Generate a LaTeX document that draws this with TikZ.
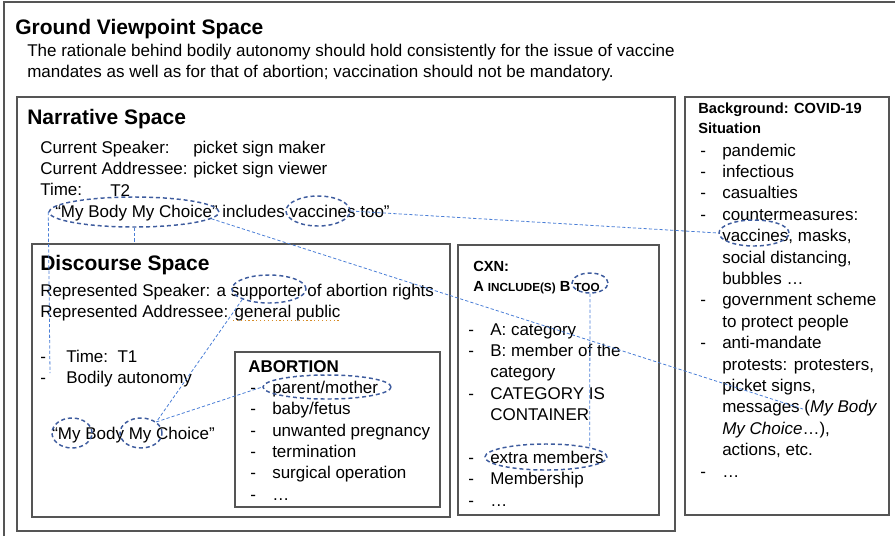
\documentclass[tikz,border=0pt]{standalone}
\usepackage{fontspec}
\setmainfont{Liberation Sans}
\usetikzlibrary{shapes.geometric,fit}

\definecolor{ringblue}{RGB}{62,92,158}
\definecolor{linkblue}{RGB}{74,126,214}
\definecolor{boxgray}{RGB}{85,85,85}
\definecolor{spellorange}{RGB}{214,140,40}

\newcommand{\bodyfont}{\fontsize{12.75pt}{16.05pt}\selectfont}
\newcommand{\li}[1][16.5pt]{\makebox[#1][l]{-}}
\newcommand{\lc}{\hspace*{16.5pt}}
\newcommand{\smc}[1]{{\fontsize{8.8pt}{15pt}\selectfont #1}}
% lines set from the baseline of the first one
\newcommand{\lines}[1]{\begin{tabular}[t]{@{}l@{}}#1\end{tabular}}

\begin{document}
\begin{tikzpicture}[%
    x=0.75pt, y=-0.75pt,        % work in pixels of the reference, y downwards
    ]
% -------------------------------------------------
% Styles for boxes, texts, circled words and links
\tikzset{
  box/.style={draw=boxgray, line width=1pt, inner sep=0pt},
  txt/.style={anchor=base west, inner sep=0pt, font=\bodyfont},
  head/.style={txt, font=\fontsize{15.75pt}{19pt}\selectfont\bfseries},
  small/.style={txt, font=\fontsize{11pt}{15pt}\selectfont\bfseries},
  ring/.style 2 args={ellipse, draw=ringblue, line width=1.1pt,
    dash pattern=on 3pt off 2.2pt, inner sep=0pt,
    minimum width=#1*1.5pt, minimum height=#2*1.5pt},
  link/.style={draw=linkblue, line width=0.6pt, dash pattern=on 2.4pt off 1.6pt},
  spell/.style={draw=spellorange, line width=0.9pt, dotted}
}
\useasboundingbox (0,0) rectangle (895,536);
% -------------------------------------------------
% The spaces
\draw[box] (4,536) |- (895,2);
\node[box, fit={(17,97) (675,531)}] (narr) {};
\node[box, fit={(32,244) (450,517)}] (disc) {};
\node[box, fit={(235,352) (440,507)}] (abort) {};
\node[box, fit={(458,245) (659,515)}] (cxn) {};
\node[box, fit={(685,97) (889,515)}] (backgr) {};

% Ground viewpoint space
\node[head] (groundTitle) at (15,34.5) {Ground Viewpoint Space};
\node[txt] (rationale) at (27,56) {\lines{The rationale behind bodily autonomy should hold consistently for the issue of vaccine\\mandates as well as for that of abortion; vaccination should not be mandatory.}};

% Narrative space
\node[head] (narrTitle) at (27,124.5) {Narrative Space};
\node[txt] (curRoles) at (40,153) {\lines{Current Speaker:\\Current Addressee:\\Time:}};
\node[txt] (curValues) at (193,153) {\lines{picket sign maker\\picket sign viewer}};
\node[txt] (timeTwo) at (110,196) {T2};
\node[txt] (quoteNarr) at (55,217.5) {“My Body My Choice” includes vaccines too”};

% Discourse space
\node[head] (discTitle) at (40,270.5) {Discourse Space};
\node[txt] (repRoles) at (40,296) {\lines{Represented Speaker: a supporter of abortion rights\\Represented Addressee: general public}};
\draw[spell] (233,320.5) -- (340,320.5);
\node[txt] (discList) at (40,362) {\lines{\li[19.5pt]Time:\ \ T1\\\li[19.5pt]Bodily autonomy}};
\node[txt] (quoteDisc) at (52,439) {“My Body My Choice”};

% Abortion frame
\node[txt, font=\bodyfont\bfseries] (abortTitle) at (248,372) {ABORTION};
\node[txt] (abortList) at (250,393.3) {\lines{\li parent/mother\\\li baby/fetus\\\li unwanted pregnancy\\\li termination\\\li surgical operation\\\li …}};

% Construction
\node[small] (cxnTitle) at (473,271) {\lines{CXN:\\A \smc{INCLUDE(S)} B \smc{TOO}}};
\node[txt] (cxnList) at (468,335) {\lines{\li A: category\\\li B: member of the\\\lc category\\\li CATEGORY IS\\\lc CONTAINER\\\mbox{}\\\li extra members\\\li Membership\\\li …}};

% Background
\node[small] (bgTitle) at (698,113) {\lines{Background: COVID-19\\Situation}};
\node[txt] (bgList) at (700,156) {\lines{\li pandemic\\\li infectious\\\li casualties\\\li countermeasures:\\\lc vaccines, masks,\\\lc social distancing,\\\lc bubbles …\\\li government scheme\\\lc to protect people\\\li anti-mandate\\\lc protests: protesters,\\\lc picket signs,\\\lc messages (\textit{My Body}\\\lc \textit{My Choice}…),\\\lc actions, etc.\\\li …}};

% -------------------------------------------------
% Circled words
\node[ring={85}{15}] (eBodyN) at (134,212) {};
\node[ring={32}{15}] (eVacN) at (318,211) {};
\node[ring={37}{14}] (eSupp) at (269,289) {};
\node[ring={20}{15}] (eMyOne) at (72,433) {};
\node[ring={21}{15}] (eMyTwo) at (141,433) {};
\node[ring={64}{12}] (eParent) at (327,387) {};
\node[ring={18}{10}] (eToo) at (590,283) {};
\node[ring={61}{13}] (eExtra) at (546,457) {};
\node[ring={35}{13}] (eVacB) at (754,233) {};

\coordinate (bodilyEnd) at (50,373);
\coordinate (msgEnd) at (803,409);

% Links between the spaces
\draw[link] (eVacN.east) -- (eVacB.west);
\draw[link] (eBodyN.-5) -- (msgEnd);
\draw[link] (eBodyN.south) -- (eBodyN.south |- disc.north);
\draw[link] (eBodyN.west) -- (bodilyEnd);
\draw[link] (eSupp.south west) -- (eMyTwo.north east);
\draw[link] (eMyTwo.north east) -- (eParent.west);
\draw[link] (eToo.south) -- (eExtra.north east);
% -------------------------------------------------
\end{tikzpicture}
\end{document}
